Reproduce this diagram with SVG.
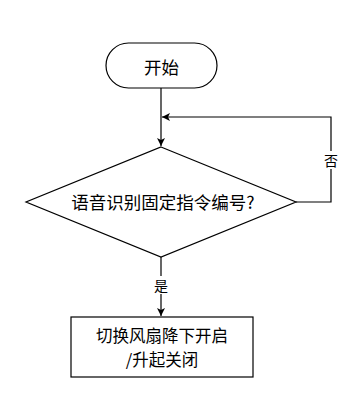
<svg xmlns="http://www.w3.org/2000/svg" width="348" height="405" viewBox="0 0 348 405">
<style>
.s{fill:#fff;stroke:#000;stroke-width:1.2}
.t{font-family:"Noto Sans CJK SC","Noto Sans",sans-serif;font-size:17.5px;fill:#000;text-anchor:middle;dominant-baseline:central}
.b{font-size:16.5px}
.l{font-family:"Noto Sans CJK SC","Noto Sans",sans-serif;font-size:14px;fill:#000;text-anchor:middle;dominant-baseline:central}
.c{fill:none;stroke:#000;stroke-width:1.2}
</style>
<defs>
<marker id="a" viewBox="0 0 10 10" refX="10" refY="5" markerWidth="8" markerHeight="8" markerUnits="userSpaceOnUse" orient="auto">
<path d="M0,0 L10,5 L0,10 L2.5,5 z" fill="#000"/>
</marker>
</defs>
<rect width="348" height="405" fill="#fff"/>
<g id="connectors">
<path class="c" d="M161,88 V146" marker-end="url(#a)"/>
<path class="c" d="M296,202 H331 V117 H162" marker-end="url(#a)"/>
<path class="c" d="M161,257 V316" marker-end="url(#a)"/>
<rect x="323" y="151" width="16" height="18" fill="#fff"/>
<text class="l" x="331" y="160">否</text>
<rect x="153" y="276" width="16" height="18" fill="#fff"/>
<text class="l" x="161" y="285">是</text>
</g>
<g id="start">
<rect class="s" x="106" y="43" width="111" height="45" rx="22.5" ry="22.5"/>
<text class="t" x="161.5" y="66">开始</text>
</g>
<g id="decision">
<path class="s" d="M161,147 L296,202 L161,257 L26,202 Z"/>
<text class="t" x="163" y="201">语音识别固定指令编号?</text>
</g>
<g id="action">
<rect class="s" x="71" y="317" width="182" height="60"/>
<text class="t b" x="162" y="335">切换风扇降下开启</text>
<text class="t b" x="162" y="359">/升起关闭</text>
</g>
</svg>
